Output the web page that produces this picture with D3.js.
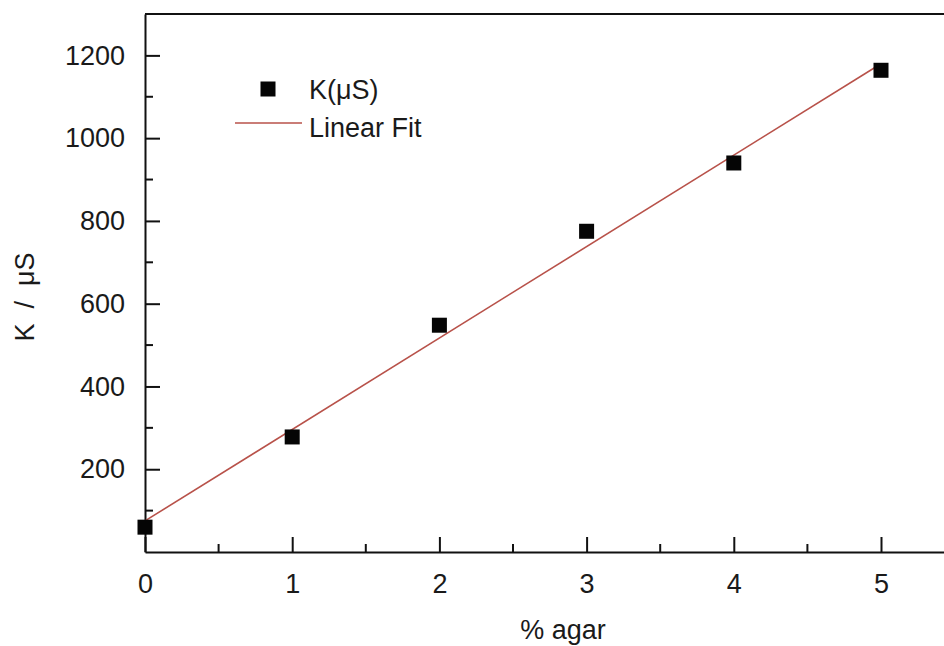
<!DOCTYPE html>
<html>
<head>
<meta charset="utf-8">
<script src="https://cdn.jsdelivr.net/npm/d3@7"></script>
<style>
  html, body { margin: 0; padding: 0; background: #fff; }
  svg { display: block; font-family: "Liberation Sans", Arial, Helvetica, sans-serif; }
  .tick text { font-size: 27px; fill: #1a1a1a; }
</style>
</head>
<body>
<svg id="chart" width="944" height="646"></svg>
<script>
// Conductivity vs agar concentration
const agarPercent = [0, 1, 2, 3, 4, 5];
const conductivity = [60, 278, 548, 775, 940, 1164];   // K in µS

const xMajorTicks = [0, 1, 2, 3, 4, 5];
const xMinorTicks = [0.5, 1.5, 2.5, 3.5, 4.5];
const yMajorTicks = [200, 400, 600, 800, 1000, 1200];
const yMinorTicks = [100, 300, 500, 700, 900, 1100];

const seriesName = "K(\u03bcS)";
const fitName = "Linear Fit";
const xTitle = "% agar";
const yTitle = "K  /  \u03bcS";

const svg = d3.select("#chart");
const W = 944, H = 646;

const x = d3.scaleLinear().domain([0, 5.5]).range([145, 954.6]);
const y = d3.scaleLinear().domain([0, 1300]).range([552, 14]);

// least-squares line through the measured points
const n = agarPercent.length;
const mx = d3.mean(agarPercent), my = d3.mean(conductivity);
let sxy = 0, sxx = 0;
for (let i = 0; i < n; i++) {
  sxy += (agarPercent[i] - mx) * (conductivity[i] - my);
  sxx += (agarPercent[i] - mx) ** 2;
}
const slope = sxy / sxx, intercept = my - slope * mx;
const fitX = [d3.min(agarPercent), d3.max(agarPercent)];

const fitColor = "#b8524a";

// frame: top edge (right edge falls outside the canvas)
svg.append("line")
  .attr("x1", x(0)).attr("x2", x(5.5))
  .attr("y1", y(1300)).attr("y2", y(1300))
  .attr("stroke", "#111").attr("stroke-width", 2);

// bottom axis
const gx = svg.append("g").attr("transform", `translate(0,${y(0)})`);
gx.call(d3.axisBottom(x).tickValues(xMajorTicks).tickFormat(d3.format("d"))
  .tickSizeInner(-15).tickSizeOuter(0).tickPadding(22));
gx.append("g").selectAll("line").data(xMinorTicks).join("line")
  .attr("x1", d => x(d)).attr("x2", d => x(d))
  .attr("y1", 0).attr("y2", -8);

// left axis
const gy = svg.append("g").attr("transform", `translate(${x(0)},0)`);
gy.call(d3.axisLeft(y).tickValues(yMajorTicks).tickFormat(d3.format("d"))
  .tickSizeInner(-15).tickSizeOuter(0).tickPadding(20));
gy.append("g").selectAll("line").data(yMinorTicks).join("line")
  .attr("y1", d => y(d)).attr("y2", d => y(d))
  .attr("x1", 0).attr("x2", 8);

svg.selectAll(".domain").attr("stroke", "#111").attr("stroke-width", 2);
svg.selectAll(".tick line").attr("stroke", "#111").attr("stroke-width", 2);
gx.selectAll("g > line").attr("stroke", "#111").attr("stroke-width", 2);
gy.selectAll("g > line").attr("stroke", "#111").attr("stroke-width", 2);
svg.selectAll(".tick text").attr("fill", "#1a1a1a");

// fit line
svg.append("line")
  .attr("x1", x(fitX[0])).attr("y1", y(intercept + slope * fitX[0]))
  .attr("x2", x(fitX[1])).attr("y2", y(intercept + slope * fitX[1]))
  .attr("stroke", fitColor).attr("stroke-width", 1.6);

// data markers
const ms = 15;
svg.append("g").selectAll("rect").data(agarPercent).join("rect")
  .attr("x", d => x(d) - ms / 2)
  .attr("y", (d, i) => y(conductivity[i]) - ms / 2)
  .attr("width", ms).attr("height", ms)
  .attr("fill", "#050505");

// legend
const lg = svg.append("g");
lg.append("rect").attr("x", 268 - 7.5).attr("y", 89 - 7.5)
  .attr("width", 15).attr("height", 15).attr("fill", "#050505");
lg.append("text").attr("x", 309).attr("y", 99)
  .attr("font-size", 27).attr("fill", "#1a1a1a").text(seriesName);
lg.append("line").attr("x1", 235).attr("x2", 302).attr("y1", 123).attr("y2", 123)
  .attr("stroke", fitColor).attr("stroke-width", 1.6);
lg.append("text").attr("x", 309).attr("y", 137)
  .attr("font-size", 27).attr("fill", "#1a1a1a").text(fitName);

// axis titles
svg.append("text")
  .attr("x", 563).attr("y", 639)
  .attr("text-anchor", "middle").attr("font-size", 27).attr("fill", "#1a1a1a")
  .text(xTitle);
svg.append("text")
  .attr("transform", "translate(34,297) rotate(-90)")
  .attr("text-anchor", "middle").attr("font-size", 27).attr("fill", "#1a1a1a")
  .style("white-space", "pre")
  .text(yTitle);
</script>
</body>
</html>
